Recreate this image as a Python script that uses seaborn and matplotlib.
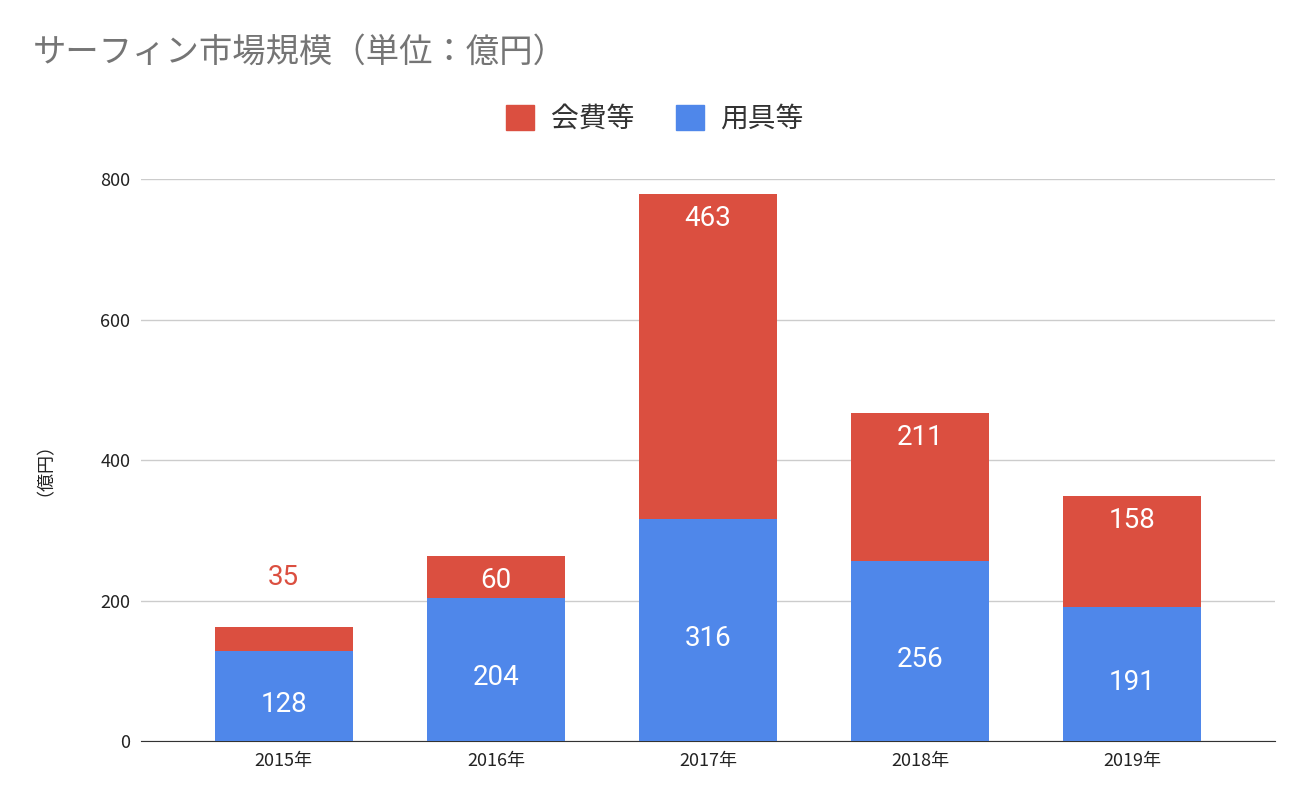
import matplotlib
matplotlib.use("Agg")
import matplotlib.pyplot as plt
import seaborn as sns
import pandas as pd

years = ["2015年", "2016年", "2017年", "2018年", "2019年"]
equipment = [128, 204, 316, 256, 191]   # 用具等
fees = [35, 60, 463, 211, 158]          # 会費等

plt.rcParams["font.family"] = "Noto Sans CJK JP"
RED = "#db4f40"
BLUE = "#4f87ea"

fig = plt.figure(figsize=(13.1, 8.1), dpi=100)
ax = fig.add_axes([0.108, 0.085, 0.865, 0.694])

df = pd.DataFrame({"year": years, "eq": equipment, "fee": fees})
sns.barplot(data=df, x="year", y="eq", color=BLUE, width=0.65, ax=ax, saturation=1, zorder=3)
sns.barplot(data=df, x="year", y="fee", color=RED, width=0.65, ax=ax, saturation=1,
            bottom=df["eq"], zorder=3)

for i, (e, f) in enumerate(zip(equipment, fees)):
    ax.text(i, e / 2 - 12, str(e), ha="center", va="center", color="white", fontsize=20,
            fontfamily="Roboto", zorder=4)
    if f < 50:
        ax.text(i, e + f + 70, str(f), ha="center", va="center", color=RED, fontsize=20,
                fontfamily="Roboto", zorder=4)
    else:
        ax.text(i, e + f - 35, str(f), ha="center", va="center", color="white", fontsize=20,
                fontfamily="Roboto", zorder=4)

ax.set_xlim(-0.67, 4.67)
ax.set_ylim(0, 800)
ax.set_yticks([0, 200, 400, 600, 800])
ax.grid(axis="y", color="#cccccc", linewidth=1, zorder=0)
for s in ["top", "right", "left"]:
    ax.spines[s].set_visible(False)
ax.spines["bottom"].set_color("#333333")
ax.tick_params(axis="both", length=0, labelsize=13, colors="#222222", pad=8)
ax.set_xlabel("")
ax.set_ylabel("（億円）", fontsize=13, color="#222222", labelpad=40)

fig.text(0.025, 0.935, "サーフィン市場規模（単位：億円）", fontsize=24, color="#757575", va="center")

from matplotlib.patches import Patch
handles = [Patch(color=RED, label="会費等"), Patch(color=BLUE, label="用具等")]
fig.legend(handles=handles, loc="center", bbox_to_anchor=(0.5, 0.853), ncol=2, frameon=False,
           fontsize=20, handlelength=1, handleheight=1, columnspacing=1.5, handletextpad=0.6,
           labelcolor="#333333")

fig.savefig("out.png", dpi=100)
